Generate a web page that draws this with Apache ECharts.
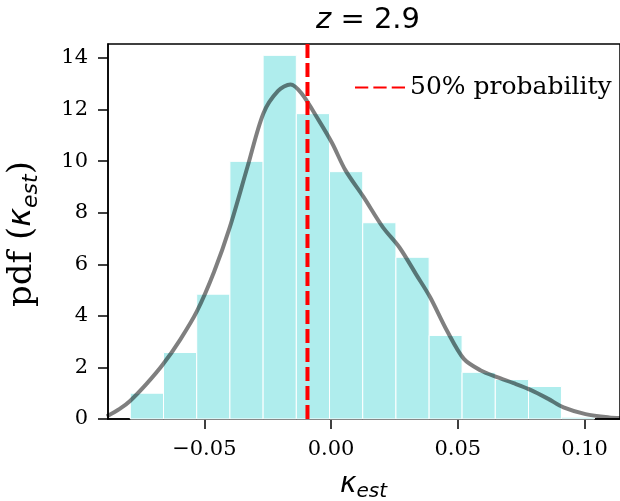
<!DOCTYPE html>
<html>
<head>
<meta charset="utf-8">
<script src="https://cdn.jsdelivr.net/npm/echarts@6/dist/echarts.min.js"></script>
<style>html,body{margin:0;padding:0;background:#fff}#c{width:620px;height:501px}</style>
</head>
<body>
<div id="c"></div>
<script>
// ---- data ----
var binEdges = [-0.0792, -0.0661, -0.0530, -0.0399, -0.0268, -0.0137, -0.0006, 0.0125, 0.0256, 0.0387, 0.0517, 0.0648, 0.0779, 0.0909, 0.1039];
var binHeights = [1.00, 2.58, 4.84, 9.99, 14.10, 11.84, 9.59, 7.61, 6.27, 3.24, 1.81, 1.53, 1.26, 0.07];
var kdeX = [-0.0885, -0.0834, -0.0792, -0.0728, -0.0663, -0.0595, -0.0529, -0.0461, -0.0399, -0.0329, -0.0267, -0.0209, -0.0160, -0.0116, -0.0049, 0.0004, 0.0057, 0.0128, 0.0204, 0.0270, 0.0338, 0.0391, 0.0457, 0.0524, 0.0591, 0.0655, 0.0720, 0.0787, 0.0857, 0.0917, 0.1004, 0.1097, 0.1140];
var kdeY = [0.10, 0.39, 0.71, 1.36, 2.12, 3.08, 4.18, 5.72, 7.45, 9.80, 11.85, 12.72, 12.97, 12.62, 11.59, 10.70, 9.64, 8.61, 7.44, 6.65, 5.57, 4.72, 3.43, 2.33, 1.88, 1.62, 1.39, 1.13, 0.78, 0.45, 0.19, 0.06, 0.04];
var median50 = -0.0093;
var xTicks = [-0.05, 0.00, 0.05, 0.10];
var xTickLabels = ['\u22120.05', '0.00', '0.05', '0.10'];
var yTicks = [0, 2, 4, 6, 8, 10, 12, 14];
var yTickLabels = ['0', '2', '4', '6', '8', '10', '12', '14'];
var legendLabel = '50% probability';
var titleText = '2.9';

var xMin = -0.0880, xMax = 0.1140, yMin = 0, yMax = 14.54;

var histData = binHeights.map(function (h, i) { return [binEdges[i], binEdges[i + 1], h]; });
var kdeData = kdeX.map(function (x, i) { return [x, kdeY[i]]; });

var chart = echarts.init(document.getElementById('c'), null, { renderer: 'canvas' });
var serif = 'DejaVu Serif';
var sans = 'DejaVu Sans';

chart.setOption({
  animation: false,
  backgroundColor: '#ffffff',
  grid: { left: 108, right: -3, top: 44, bottom: 82, show: true, borderColor: '#000', borderWidth: 1.5, backgroundColor: 'transparent' },
  title: {
    text: '{i|z} = ' + titleText,
    left: 363, top: 1, textAlign: 'center',
    textStyle: { fontFamily: sans, fontSize: 29, fontWeight: 'normal', color: '#000',
      rich: { i: { fontFamily: sans, fontStyle: 'italic', fontSize: 29, color: '#000' } } }
  },
  legend: {
    data: [legendLabel],
    left: 350, top: 70,
    itemWidth: 50, itemHeight: 14, itemGap: 9,
    icon: 'path://M0,6 L13,6 L13,8 L0,8 Z M18,6 L31,6 L31,8 L18,8 Z M36,6 L49,6 L49,8 L36,8 Z',
    textStyle: { fontFamily: serif, fontSize: 25, color: '#000' },
    itemStyle: { color: '#ff0000' }
  },
  xAxis: {
    type: 'value', min: xMin, max: xMax,
    axisLine: { show: true, onZero: false, lineStyle: { color: '#000', width: 1.5 } },
    axisTick: { show: true, length: 10, lineStyle: { color: '#000', width: 1.5 }, customValues: xTicks },
    axisLabel: { customValues: xTicks, margin: 20, fontFamily: serif, fontSize: 21, color: '#000',
      formatter: function (v) { var i = xTicks.findIndex(function (t) { return Math.abs(t - v) < 1e-9; }); return i >= 0 ? xTickLabels[i] : ''; } },
    splitLine: { show: false }
  },
  yAxis: {
    type: 'value', min: yMin, max: yMax,
    axisLine: { show: true, onZero: false, lineStyle: { color: '#000', width: 1.5 } },
    axisTick: { show: true, length: 10, lineStyle: { color: '#000', width: 1.5 }, customValues: yTicks },
    axisLabel: { customValues: yTicks, margin: 20, fontFamily: serif, fontSize: 21, color: '#000',
      formatter: function (v) { var i = yTicks.indexOf(v); return i >= 0 ? yTickLabels[i] : ''; } },
    splitLine: { show: false }
  },
  graphic: [
    {
      type: 'text', left: 340, top: 471, z: 100,
      style: { text: '{k|\u03ba}{s|est}', fill: '#000',
        rich: { k: { fontFamily: sans, fontStyle: 'italic', fontSize: 28, lineHeight: 34, verticalAlign: 'middle' },
                s: { fontFamily: sans, fontStyle: 'italic', fontSize: 20, lineHeight: 20, verticalAlign: 'bottom' } } }
    },
    {
      type: 'text', x: 22, y: 234, rotation: Math.PI / 2, z: 100,
      style: { text: '{p|pdf (}{k|\u03ba}{s|est}{p|)}', fill: '#000', align: 'center', verticalAlign: 'middle',
        rich: { p: { fontFamily: serif, fontSize: 34, lineHeight: 40, verticalAlign: 'middle' },
                k: { fontFamily: sans, fontStyle: 'italic', fontSize: 32, lineHeight: 40, verticalAlign: 'middle' },
                s: { fontFamily: sans, fontStyle: 'italic', fontSize: 22, lineHeight: 22, verticalAlign: 'bottom' } } }
    }
  ],
  series: [
    {
      type: 'custom', name: 'hist', z: 1,
      renderItem: function (params, api) {
        var p0 = api.coord([api.value(0), 0]);
        var p1 = api.coord([api.value(1), api.value(2)]);
        return { type: 'rect', shape: { x: p0[0], y: p1[1], width: p1[0] - p0[0], height: p0[1] - p1[1] },
          style: { fill: '#afeded', stroke: '#ffffff', lineWidth: 1 } };
      },
      encode: { x: [0, 1], y: 2 },
      data: histData
    },
    {
      type: 'line', name: 'kde', z: 3, data: kdeData, smooth: 0.3, showSymbol: false, symbol: 'none',
      lineStyle: { color: 'rgba(0,0,0,0.5)', width: 4 }, silent: true
    },
    {
      type: 'line', name: legendLabel, z: 4, symbol: 'none', showSymbol: false,
      data: [[median50, yMin], [median50, yMax]],
      lineStyle: { color: '#ff0000', width: 4, type: [14, 5] }, itemStyle: { color: '#ff0000' }
    }
  ]
});
</script>
</body>
</html>
